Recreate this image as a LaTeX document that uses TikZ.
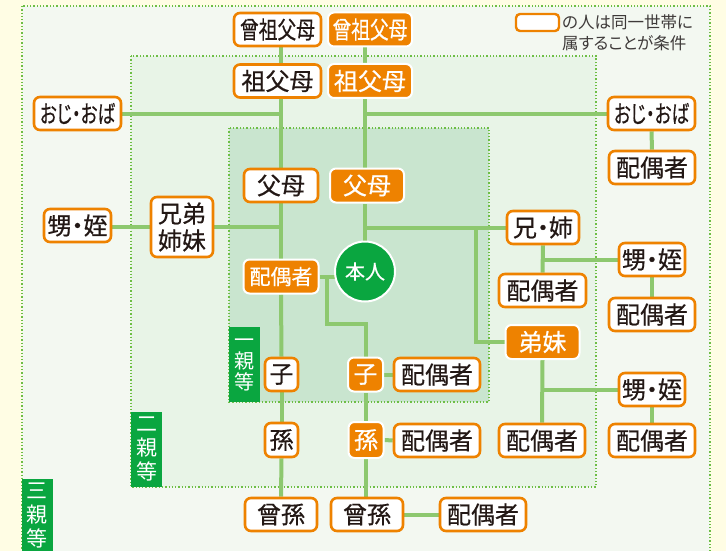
\documentclass[tikz,border=0pt]{standalone}
\usepackage{fontspec}
\usepackage{graphicx}
\newfontfamily\jp[FakeBold=0.5,RawFeature=+palt]{Noto Sans CJK JP}
\newfontfamily\jpr[RawFeature=+palt]{Noto Sans CJK JP}
\definecolor{orangeC}{HTML}{EE8200}
\definecolor{lineC}{HTML}{8DC86F}
\definecolor{dotC}{HTML}{6DBE45}
\definecolor{greenC}{HTML}{0AA640}
\definecolor{bgY}{HTML}{FFFDE4}
\definecolor{fillA}{HTML}{F3F8F1}
\definecolor{fillB}{HTML}{E8F4E7}
\definecolor{fillC}{HTML}{C9E5CF}
\definecolor{txt}{HTML}{231815}
\definecolor{legT}{HTML}{3E3A39}
\pgfdeclarelayer{bg}\pgfdeclarelayer{lines}\pgfsetlayers{bg,lines,main}
\begin{document}
\begin{tikzpicture}[x=1pt,y=-1pt,
 wbox/.style={draw=orangeC, line width=2.6pt, fill=white, rounded corners=6pt, inner sep=0pt, minimum height=33pt, text=txt, font=\jp\fontsize{24}{26}\selectfont},
 obox/.style={draw=white, line width=2pt, fill=orangeC, rounded corners=6pt, inner sep=0pt, minimum height=34pt, text=white, font=\jp\fontsize{24}{26}\selectfont},
 link/.style={draw=lineC, line width=4pt},
 frame/.style={draw=dotC, line width=1.3pt, dash pattern=on 1.3pt off 2pt},
 deg/.style={fill=greenC, text=white, inner sep=0pt, minimum width=31pt, align=center, font=\jpr\fontsize{21}{24}\selectfont},
]
\useasboundingbox (0,0) rectangle (726,551);
\begin{pgfonlayer}{bg}
\begin{scope}
\clip (0,0) rectangle (726,551);
\fill[bgY] (0,0) rectangle (726,551);
\filldraw[fill=fillA, frame] (22,6) rectangle (710,570);
\filldraw[fill=fillB, frame] (131,56) rectangle (596,487);
\filldraw[fill=fillC, frame] (229,128) rectangle (489,402);
\end{scope}
\end{pgfonlayer}

% degree labels
\node[deg, minimum height=75pt, font=\jpr\fontsize{20}{21}\selectfont] (d1) at (244,364.5) {一\\親\\等};
\node[deg, minimum height=75pt] (d2) at (146.5,449.5) {二\\親\\等};
\node[deg, minimum height=72pt, anchor=north] (d3) at (37.5,479) {三\\親\\等};

% legend
\node[draw=orangeC, line width=2.4pt, fill=white, rounded corners=4pt, minimum width=43pt, minimum height=17pt, inner sep=0pt] (leg) at (537.5,22.5) {};
\node[anchor=west, inner sep=0pt, text=legT, font=\jpr\fontsize{16.5}{18}\selectfont] (legA) at (562,22.5) {の人は同一世帯に};
\node[anchor=west, inner sep=0pt, text=legT, font=\jpr\fontsize{16.5}{18}\selectfont] (legB) at (562,43) {属することが条件};

% nodes
\node[wbox, minimum width=87pt] (ssfW) at (277.5,29.5) {\scalebox{0.78}[1]{曾祖父母}};
\node[obox, minimum width=84pt] (ssfO) at (370,29.5) {\scalebox{0.78}[1]{曾祖父母}};
\node[wbox, minimum width=87pt] (sfW) at (277.5,81) {祖父母};
\node[obox, minimum width=84pt] (sfO) at (370,81) {祖父母};
\node[wbox, minimum width=87pt] (ojiL) at (77.5,113.5) {\resizebox{75pt}{\height}{おじ・おば}};
\node[wbox, minimum width=87pt] (ojiR) at (651.5,113.5) {\resizebox{75pt}{\height}{おじ・おば}};
\node[wbox, minimum width=86pt] (ojiRsp) at (652,167.5) {配偶者};
\node[wbox, minimum width=74pt] (fW) at (281,185.5) {父母};
\node[obox, minimum width=74pt] (fO) at (367,185.5) {父母};
\node[wbox, minimum width=67pt] (neiL) at (77.5,225.5) {甥・姪};
\node[wbox, minimum width=62pt, minimum height=60pt, align=center, font=\jp\fontsize{24}{27}\selectfont] (kyo) at (182,227) {兄弟\\姉妹};
\node[wbox, minimum width=72pt] (ane) at (543,227.5) {兄・姉};
\node[wbox, minimum width=66pt] (neiR1) at (652,259.5) {甥・姪};
\node[wbox, minimum width=87pt] (aneSp) at (542.5,290.5) {配偶者};
\node[wbox, minimum width=86pt] (neiR1sp) at (652,314.5) {配偶者};
\node[obox, minimum width=74pt] (oto) at (542.5,342) {弟妹};
\node[obox, minimum width=75pt, font=\jp\fontsize{21}{24}\selectfont] (sp) at (281,276.5) {配偶者};
\node[circle, fill=greenC, draw=white, line width=2pt, minimum size=60pt, inner sep=0pt, text=white, font=\jp\fontsize{20}{22}\selectfont] (me) at (365,271.5) {本人};
\node[wbox, minimum width=33pt] (koW) at (281.5,374.5) {子};
\node[obox, minimum width=35pt] (koO) at (365.5,374.5) {子};
\node[wbox, minimum width=86pt] (koSp) at (437,374.5) {配偶者};
\node[wbox, minimum width=33pt, minimum height=34pt] (magoW) at (281.5,440) {孫};
\node[obox, minimum width=35pt, minimum height=36pt] (magoO) at (366,440) {孫};
\node[wbox, minimum width=86pt] (magoSp) at (437,440.5) {配偶者};
\node[wbox, minimum width=86pt] (otoSp) at (542,440.5) {配偶者};
\node[wbox, minimum width=66pt] (neiR2) at (652,389.5) {甥・姪};
\node[wbox, minimum width=86pt] (neiR2sp) at (652,440.5) {配偶者};
\node[wbox, minimum width=72pt] (himW) at (281,514.5) {曾孫};
\node[wbox, minimum width=72pt] (himO) at (367,514.5) {曾孫};
\node[wbox, minimum width=86pt] (himSp) at (483,514.5) {配偶者};

\coordinate (jx) at (476,0);
\coordinate (j2) at (327,324);

\begin{pgfonlayer}{lines}
\draw[link] (ssfW.south -| fW.north) -- (sfW.north -| fW.north);
\draw[link] (sfW.south -| fW.north) -- (fW.north);
\draw[link] (fW.south) -- (sp.north);
\draw[link] (sp.south) -- (koW.north);
\draw[link] (koW.south) -- (magoW.north);
\draw[link] (magoW.south) -- (himW.north);
\draw[link] (ojiL.east) -- (ojiL.east -| fW.north);
\draw[link] (ssfO.south -| me.north) -- (sfO.north -| me.north);
\draw[link] (sfO.south -| me.north) -- (fO.north -| me.north);
\draw[link] (fO.south -| me.north) -- (me.north);
\draw[link] (ojiR.west) -- (ojiR.west -| me.north);
\draw[link] (ojiR.south) -- (ojiRsp.north);
\draw[link] (kyo.west -| neiL.east) -- (kyo.west);
\draw[link] (kyo.east) -- (kyo.east -| fW.north);
\draw[link] (ane.west -| me.north) -- (ane.west);
\draw[link] (ane.west -| jx) |- (oto.west);
\draw[link] (ane.south) -- (aneSp.north);
\draw[link] (ane.south |- neiR1.west) -- (neiR1.west);
\draw[link] (neiR1.south) -- (neiR1sp.north);
\draw[link] (oto.south) -- (otoSp.north);
\draw[link] (oto.south |- neiR2.west) -- (neiR2.west);
\draw[link] (neiR2.south) -- (neiR2sp.north);
\draw[link] (sp.east) -- (sp.east -| me);
\draw[link] (sp.east -| j2) -- (j2) -| (koO.north);
\draw[link] (koO.south) -- (magoO.north -| koO.south);
\draw[link] (magoO.south -| koO.south) -- (himO.north -| koO.south);
\draw[link] (koO.east) -- (koSp.west);
\draw[link] (magoO.east) -- (magoSp.west);
\draw[link] (himO.east) -- (himSp.west);
\end{pgfonlayer}
\end{tikzpicture}
\end{document}
